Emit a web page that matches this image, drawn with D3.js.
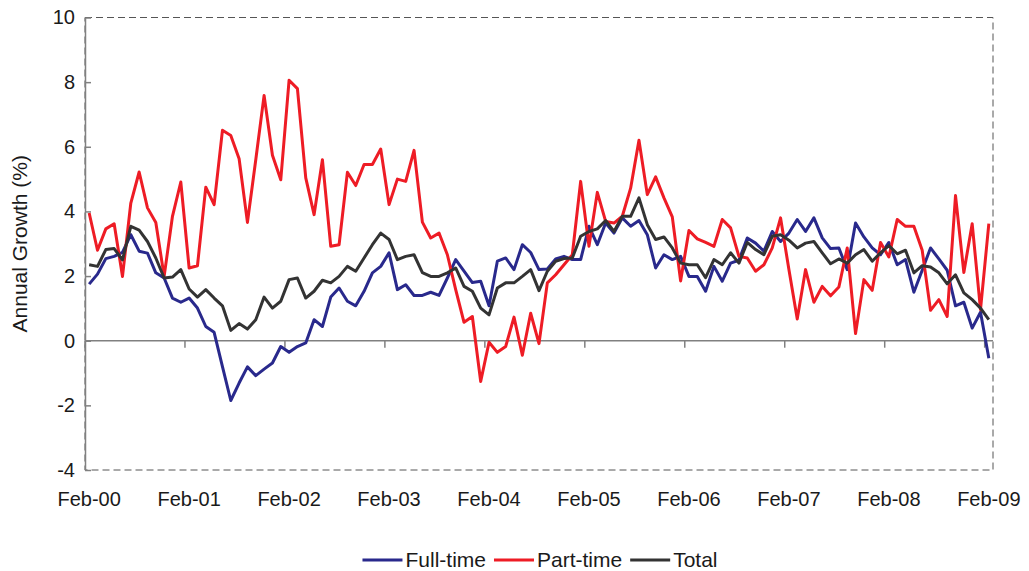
<!DOCTYPE html>
<html>
<head>
<meta charset="utf-8">
<script src="https://cdn.jsdelivr.net/npm/d3@7"></script>
<style>
  body { margin: 0; background: #fff; }
  svg { display: block; font-family: "Liberation Sans", Arial, sans-serif; }
</style>
</head>
<body>
<svg id="chart" width="1029" height="571"></svg>
<script>
// monthly categories Feb-00 .. Feb-09
const months = d3.timeMonth.range(new Date(2000, 1, 1), new Date(2009, 2, 1)).map(d3.timeFormat("%b-%y"));
const tickLabels = ["Feb-00", "Feb-01", "Feb-02", "Feb-03", "Feb-04", "Feb-05", "Feb-06", "Feb-07", "Feb-08", "Feb-09"];
const yTicks = [-4, -2, 0, 2, 4, 6, 8, 10];

const fullTime = [
  1.75, 2.06, 2.54, 2.61, 2.73, 3.28, 2.77, 2.71, 2.10, 1.94, 1.32, 1.19,
  1.32, 1.01, 0.44, 0.26, -0.80, -1.85, -1.31, -0.81, -1.08, -0.88, -0.69, -0.18,
  -0.36, -0.18, -0.07, 0.65, 0.44, 1.35, 1.63, 1.22, 1.08, 1.53, 2.10, 2.30,
  2.72, 1.58, 1.73, 1.40, 1.40, 1.50, 1.40, 1.94, 2.51, 2.15, 1.80, 1.84,
  1.08, 2.46, 2.56, 2.20, 2.97, 2.73, 2.20, 2.22, 2.53, 2.61, 2.51, 2.51,
  3.54, 2.97, 3.64, 3.33, 3.80, 3.54, 3.72, 3.28, 2.25, 2.66, 2.51, 2.61,
  1.99, 1.99, 1.53, 2.30, 1.84, 2.40, 2.49, 3.18, 3.02, 2.77, 3.38, 3.07,
  3.33, 3.75, 3.38, 3.80, 3.18, 2.85, 2.87, 2.20, 3.64, 3.21, 2.87, 2.66,
  3.04, 2.35, 2.51, 1.50, 2.18, 2.87, 2.53, 2.18, 1.08, 1.19, 0.39, 0.88,
  -0.54
];
const partTime = [
  3.95, 2.80, 3.46, 3.62, 1.99, 4.26, 5.22, 4.11, 3.66, 1.99, 3.85, 4.91,
  2.25, 2.32, 4.75, 4.21, 6.51, 6.35, 5.63, 3.66, 5.60, 7.59, 5.74, 4.98,
  8.06, 7.80, 5.04, 3.90, 5.60, 2.92, 2.97, 5.21, 4.80, 5.45, 5.45, 5.93,
  4.21, 5.00, 4.93, 5.89, 3.67, 3.18, 3.33, 2.66, 1.58, 0.57, 0.75, -1.26,
  -0.05, -0.36, -0.18, 0.73, -0.45, 0.85, -0.09, 1.79, 2.04, 2.35, 2.66, 4.93,
  2.92, 4.59, 3.69, 3.64, 3.85, 4.72, 6.20, 4.52, 5.07, 4.42, 3.83, 1.85,
  3.41, 3.15, 3.04, 2.92, 3.75, 3.49, 2.61, 2.56, 2.15, 2.35, 2.87, 3.80,
  2.20, 0.67, 2.20, 1.19, 1.68, 1.39, 1.66, 2.87, 0.22, 1.89, 1.56, 3.04,
  2.59, 3.75, 3.54, 3.54, 2.80, 0.94, 1.27, 0.75, 4.49, 2.11, 3.62, 0.96,
  3.62
];
const total = [
  2.35, 2.30, 2.82, 2.85, 2.50, 3.54, 3.42, 3.07, 2.56, 1.94, 1.97, 2.20,
  1.60, 1.35, 1.58, 1.32, 1.08, 0.32, 0.53, 0.36, 0.65, 1.35, 1.01, 1.22,
  1.89, 1.94, 1.32, 1.53, 1.87, 1.79, 1.99, 2.30, 2.15, 2.56, 2.97, 3.33,
  3.13, 2.51, 2.61, 2.66, 2.11, 1.99, 1.99, 2.10, 2.25, 1.68, 1.53, 1.01,
  0.80, 1.63, 1.79, 1.79, 1.99, 2.20, 1.55, 2.15, 2.46, 2.54, 2.56, 3.23,
  3.38, 3.46, 3.72, 3.38, 3.85, 3.85, 4.42, 3.59, 3.13, 3.21, 2.87, 2.40,
  2.35, 2.35, 1.95, 2.51, 2.35, 2.72, 2.40, 3.04, 2.82, 2.66, 3.23, 3.28,
  3.11, 2.87, 3.02, 3.07, 2.72, 2.38, 2.53, 2.40, 2.66, 2.82, 2.46, 2.72,
  2.94, 2.69, 2.80, 2.10, 2.32, 2.28, 2.10, 1.76, 2.04, 1.48, 1.27, 1.01,
  0.65
];

const series = [
  { name: "Full-time", values: fullTime, color: "#29298c" },
  { name: "Part-time", values: partTime, color: "#ee1c25" },
  { name: "Total", values: total, color: "#333333" }
];

const svg = d3.select("#chart");
const plot = { left: 85, right: 993, top: 17.5, bottom: 470 };

const x = d3.scaleBand()
            .domain(months)
            .range([plot.left, plot.right])
            .padding(0);
const y = d3.scaleLinear()
            .domain([-4, 10])
            .range([plot.bottom, plot.top]);
const cx = m => x(m) + x.bandwidth() / 2;

// dashed plot frame
svg.append("rect")
   .attr("x", plot.left)
   .attr("y", plot.top)
   .attr("width", plot.right - plot.left)
   .attr("height", plot.bottom - plot.top)
   .attr("fill", "none")
   .attr("stroke", "#555")
   .attr("stroke-width", 1)
   .attr("stroke-dasharray", "7,4");

// y axis (plain hyphen for negatives, like the original)
const yAxis = svg.append("g")
   .attr("transform", `translate(${plot.left},0)`)
   .call(d3.axisLeft(y).tickValues(yTicks).tickFormat(d => String(d))
           .tickSize(-6).tickSizeOuter(0).tickPadding(10));
yAxis.select(".domain").attr("stroke", "#808080").attr("stroke-width", 1.5);
yAxis.selectAll(".tick line").attr("stroke", "#808080").attr("stroke-width", 1.5);
yAxis.selectAll(".tick text")
     .attr("font-size", 20)
     .attr("fill", "#1a1a1a")
     .attr("font-family", "Liberation Sans, Arial, sans-serif");

// zero line with year ticks
const zero = svg.append("g");
zero.append("line")
    .attr("x1", plot.left).attr("x2", plot.right)
    .attr("y1", y(0)).attr("y2", y(0))
    .attr("stroke", "#808080").attr("stroke-width", 1.5);
zero.selectAll("line.tick")
    .data(tickLabels)
    .enter()
    .append("line")
    .attr("class", "tick")
    .attr("x1", d => x(d)).attr("x2", d => x(d))
    .attr("y1", y(0)).attr("y2", y(0) + 7)
    .attr("stroke", "#808080").attr("stroke-width", 1.5);

// x labels at the bottom
const xAxis = svg.append("g")
   .attr("transform", `translate(0,${plot.bottom + 22})`)
   .call(d3.axisBottom(x).tickValues(tickLabels).tickSize(0).tickPadding(0));
xAxis.select(".domain").remove();
xAxis.selectAll(".tick text")
     .attr("font-size", 20)
     .attr("fill", "#1a1a1a")
     .attr("font-family", "Liberation Sans, Arial, sans-serif");

// y title
svg.append("text")
   .attr("transform", `translate(27,${(plot.top + plot.bottom) / 2}) rotate(-90)`)
   .attr("text-anchor", "middle")
   .attr("font-size", 21)
   .attr("fill", "#1a1a1a")
   .text("Annual Growth (%)");

// lines
const line = d3.line()
               .x((d, i) => cx(months[i]))
               .y(d => y(d));

svg.selectAll("path.series")
   .data(series)
   .enter()
   .append("path")
   .attr("class", "series")
   .attr("d", d => line(d.values))
   .attr("fill", "none")
   .attr("stroke", d => d.color)
   .attr("stroke-width", 3)
   .attr("stroke-linejoin", "round");

// legend
const legend = svg.append("g");
const legendY = 560;
let lx = 0;
series.forEach(s => {
  legend.append("line")
        .attr("x1", lx).attr("x2", lx + 40)
        .attr("y1", legendY).attr("y2", legendY)
        .attr("stroke", s.color).attr("stroke-width", 3);
  const t = legend.append("text")
        .attr("x", lx + 43)
        .attr("y", legendY + 7)
        .attr("font-size", 21)
        .attr("fill", "#1a1a1a")
        .text(s.name);
  lx += 43 + t.node().getComputedTextLength() + 8;
});
const legendWidth = lx - 8;
legend.attr("transform", `translate(${540 - legendWidth / 2},0)`);
</script>
</body>
</html>
